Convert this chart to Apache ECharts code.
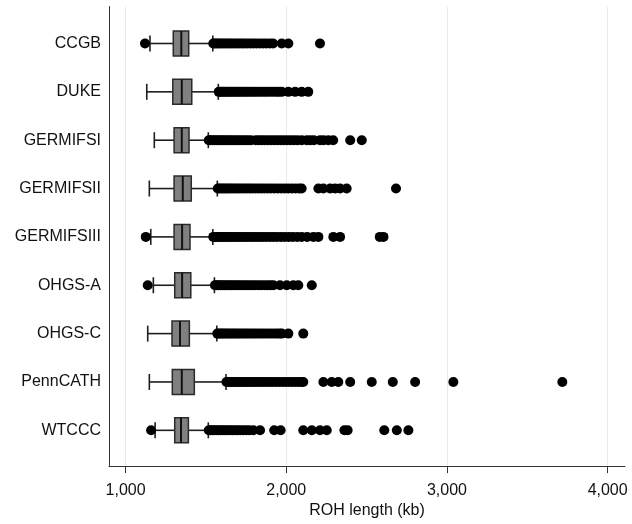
<!DOCTYPE html>
<html>
<head>
<meta charset="utf-8">
<script src="https://cdn.jsdelivr.net/npm/echarts@6/dist/echarts.min.js"></script>
<style>
  html, body { margin: 0; padding: 0; background: #fff; }
  #chart { width: 632px; height: 524px; }
</style>
</head>
<body>
<div id="chart"></div>
<script>
// Cohorts, top to bottom
const cohorts = ['CCGB', 'DUKE', 'GERMIFSI', 'GERMIFSII', 'GERMIFSIII', 'OHGS-A', 'OHGS-C', 'PennCATH', 'WTCCC'];

// Box summaries (kb): [lower whisker, Q1, median, Q3, upper whisker]
const boxStats = [
  [1152, 1297, 1347, 1393, 1543],
  [1132, 1294, 1350, 1412, 1577],
  [1179, 1302, 1350, 1395, 1515],
  [1148, 1302, 1356, 1409, 1571],
  [1157, 1302, 1352, 1401, 1543],
  [1173, 1306, 1352, 1406, 1553],
  [1138, 1289, 1339, 1397, 1568],
  [1148, 1291, 1350, 1428, 1625],
  [1184, 1306, 1345, 1391, 1515]
];

// Outlying ROH lengths (kb) per cohort
const outCCGB = [1121, 1546, 1556, 1568, 1580, 1593, 1606, 1620, 1634, 1648, 1663, 1678, 1694, 1710, 1726, 1742, 1760, 1778, 1796, 1815, 1835, 1855, 1876, 1898, 1918, 1972, 2013, 2210];
const outDUKE = [1580, 1590, 1602, 1614, 1627, 1640, 1654, 1668, 1682, 1697, 1712, 1728, 1744, 1760, 1777, 1794, 1812, 1830, 1850, 1870, 1890, 1912, 1934, 1952, 1972, 2013, 2055, 2096, 2137];
const outGERMIFSI = [1518, 1528, 1540, 1552, 1565, 1578, 1592, 1606, 1620, 1635, 1650, 1665, 1680, 1696, 1712, 1728, 1745, 1762, 1780, 1810, 1828, 1846, 1865, 1884, 1904, 1924, 1944, 1964, 1984, 2005, 2026, 2048, 2070, 2096, 2128, 2150, 2172, 2210, 2232, 2262, 2292, 2398, 2470];
const outGERMIFSII = [1574, 1585, 1597, 1610, 1623, 1636, 1650, 1664, 1678, 1693, 1708, 1724, 1740, 1756, 1773, 1790, 1808, 1826, 1845, 1864, 1884, 1904, 1925, 1946, 1968, 1990, 2012, 2035, 2058, 2080, 2096, 2200, 2231, 2273, 2304, 2335, 2376, 2683];
const outGERMIFSIII = [1126, 1546, 1556, 1568, 1580, 1593, 1606, 1620, 1634, 1648, 1663, 1678, 1694, 1710, 1726, 1742, 1760, 1778, 1796, 1815, 1835, 1855, 1876, 1898, 1920, 1942, 1966, 1990, 2015, 2040, 2068, 2096, 2130, 2169, 2200, 2293, 2335, 2582, 2605];
const outOHGSA = [1138, 1556, 1566, 1578, 1590, 1603, 1616, 1630, 1644, 1658, 1673, 1688, 1704, 1720, 1736, 1753, 1770, 1788, 1806, 1825, 1844, 1864, 1884, 1902, 1920, 1961, 2003, 2044, 2075, 2159];
const outOHGSC = [1571, 1582, 1594, 1606, 1619, 1632, 1646, 1660, 1674, 1689, 1704, 1720, 1736, 1752, 1769, 1786, 1804, 1822, 1841, 1860, 1880, 1900, 1920, 1940, 1958, 1972, 2013, 2106];
const outPennCATH = [1628, 1638, 1650, 1662, 1675, 1688, 1702, 1716, 1730, 1745, 1760, 1776, 1792, 1808, 1825, 1842, 1860, 1878, 1897, 1916, 1936, 1956, 1976, 1996, 2016, 2036, 2056, 2076, 2096, 2106, 2231, 2283, 2324, 2398, 2532, 2663, 2802, 3040, 3718];
const outWTCCC = [1159, 1518, 1528, 1540, 1552, 1565, 1578, 1592, 1606, 1620, 1635, 1650, 1666, 1682, 1698, 1715, 1732, 1750, 1770, 1795, 1837, 1925, 1965, 2106, 2159, 2210, 2252, 2362, 2382, 2610, 2688, 2760];

const outliers = [outCCGB, outDUKE, outGERMIFSI, outGERMIFSII, outGERMIFSIII, outOHGSA, outOHGSC, outPennCATH, outWTCCC];

// Axis ticks (kb)
const xTicks = [1000, 2000, 3000, 4000];
const xTitle = 'ROH length (kb)';

const font = '"Liberation Sans", Arial, sans-serif';
const ink = '#333333';

const boxData = boxStats.map((s, i) => [i].concat(s));
const outlierData = [];
outliers.forEach((list, i) => list.forEach(v => outlierData.push([v, i])));

const chart = echarts.init(document.getElementById('chart'), null, { renderer: 'canvas' });

chart.setOption({
  animation: false,
  backgroundColor: '#ffffff',
  grid: { left: 109, top: 6.5, width: 516, height: 461.8, containLabel: false },
  xAxis: {
    type: 'value',
    position: 'bottom',
    min: 897,
    max: 4108,
    name: xTitle,
    nameLocation: 'middle',
    nameGap: 36,
    nameTextStyle: { fontFamily: font, fontSize: 16, color: '#111' },
    axisLine: { show: true, onZero: false, lineStyle: { color: ink, width: 1 } },
    axisTick: { show: true, length: 7, inside: false, customValues: xTicks, lineStyle: { color: ink } },
    axisLabel: {
      customValues: xTicks,
      margin: 16,
      fontFamily: font, fontSize: 16, color: '#111',
      formatter: v => Number(v).toLocaleString('en-US')
    },
    splitLine: { show: true, lineStyle: { color: '#e4eded', width: 1 } }
  },
  yAxis: {
    type: 'value',
    position: 'left',
    inverse: true,
    min: -0.765,
    max: 8.74,
    axisLine: { show: true, onZero: false, lineStyle: { color: ink, width: 1 } },
    axisTick: { show: false },
    axisLabel: {
      customValues: cohorts.map((c, i) => i),
      margin: 8,
      fontFamily: font, fontSize: 16, color: '#111',
      formatter: v => cohorts[Math.round(v)] || ''
    },
    splitLine: { show: false }
  },
  series: [
    {
      type: 'custom',
      data: boxData,
      encode: { x: [1, 2, 3, 4, 5], y: 0 },
      renderItem: function (params, api) {
        const idx = api.value(0);
        const lo = api.coord([api.value(1), idx]);
        const q1 = api.coord([api.value(2), idx]);
        const md = api.coord([api.value(3), idx]);
        const q3 = api.coord([api.value(4), idx]);
        const hi = api.coord([api.value(5), idx]);
        const y = lo[1];
        const boxH = 25;
        const capH = 16;
        const lineStyle = { stroke: '#1e1e1e', lineWidth: 1.6 };
        return {
          type: 'group',
          children: [
            { type: 'line', shape: { x1: lo[0], y1: y, x2: q1[0], y2: y }, style: lineStyle },
            { type: 'line', shape: { x1: q3[0], y1: y, x2: hi[0], y2: y }, style: lineStyle },
            { type: 'line', shape: { x1: lo[0], y1: y - capH / 2, x2: lo[0], y2: y + capH / 2 }, style: lineStyle },
            { type: 'line', shape: { x1: hi[0], y1: y - capH / 2, x2: hi[0], y2: y + capH / 2 }, style: lineStyle },
            {
              type: 'rect',
              shape: { x: q1[0], y: y - boxH / 2, width: q3[0] - q1[0], height: boxH },
              style: { fill: '#808080', stroke: '#2a2a2a', lineWidth: 1.5 }
            },
            { type: 'line', shape: { x1: md[0], y1: y - boxH / 2, x2: md[0], y2: y + boxH / 2 }, style: { stroke: '#111', lineWidth: 2 } }
          ]
        };
      }
    },
    {
      type: 'scatter',
      data: outlierData,
      symbol: 'circle',
      symbolSize: 10,
      itemStyle: { color: '#000', opacity: 1 },
      z: 3
    }
  ]
});
</script>
</body>
</html>
